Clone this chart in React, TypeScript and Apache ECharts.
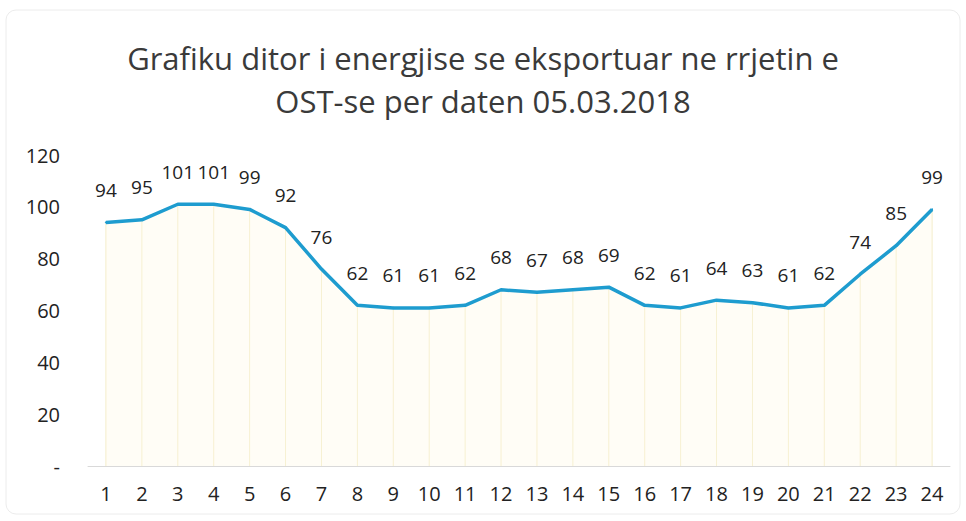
import React, { useEffect, useRef } from "react";
import * as echarts from "echarts";

const titleLines = ["Grafiku ditor i energjise se eksportuar ne rrjetin e", "OST-se per daten 05.03.2018"];
const hours = ["1","2","3","4","5","6","7","8","9","10","11","12","13","14","15","16","17","18","19","20","21","22","23","24"];
const values = [94,95,101,101,99,92,76,62,61,61,62,68,67,68,69,62,61,64,63,61,62,74,85,99];
const yTicks = [0, 20, 40, 60, 80, 100, 120];

export default function App() {
  const ref = useRef<HTMLDivElement>(null);
  useEffect(() => {
    if (!ref.current) return;
    const chart = echarts.init(ref.current, undefined, { renderer: "svg" });
    const font = "'Open Sans', Lato, sans-serif";
    chart.setOption({
      animation: false,
      backgroundColor: "#ffffff",
      title: {
        text: titleLines.join("\n"),
        left: "center",
        top: 31,
        textStyle: { fontFamily: font, fontSize: 31, fontWeight: "normal", color: "#3a3a3a", lineHeight: 43 },
      },
      graphic: [
        {
          type: "rect",
          shape: { x: 6, y: 10, width: 954, height: 504, r: 10 },
          style: { fill: "none", stroke: "#ececec", lineWidth: 1 },
          silent: true,
        },
      ],
      grid: { left: 88, right: 16, top: 155, bottom: 55 },
      xAxis: {
        type: "category",
        data: hours,
        boundaryGap: true,
        axisLine: { lineStyle: { color: "#d9d9d9" } },
        axisTick: { show: false },
        axisLabel: { fontFamily: font, fontSize: 20, color: "#222", margin: 17 },
      },
      yAxis: {
        type: "value",
        min: yTicks[0],
        max: yTicks[yTicks.length - 1],
        interval: 20,
        splitLine: { show: false },
        axisLine: { show: false },
        axisTick: { show: false },
        axisLabel: {
          fontFamily: font,
          fontSize: 20,
          color: "#222",
          margin: 28,
          formatter: (v: number) => (v === 0 ? "-" : String(v)),
        },
      },
      series: [
        {
          type: "bar",
          data: values,
          barWidth: 1,
          silent: true,
          itemStyle: { color: "#f3ebc4" },
          z: 1,
        },
        {
          type: "line",
          data: values,
          symbol: "circle",
          symbolSize: 2,
          showSymbol: true,
          itemStyle: { color: "#1e9ccf" },
          lineStyle: { color: "#1e9ccf", width: 3.5 },
          areaStyle: { color: "rgba(255, 251, 232, 0.55)" },
          label: {
            show: true,
            position: "top",
            distance: 22,
            fontFamily: font,
            fontSize: 19,
            color: "#222",
          },
          labelLayout: { hideOverlap: false },
          z: 3,
        },
      ],
    });
    return () => chart.dispose();
  }, []);
  return <div ref={ref} style={{ position: "fixed", left: 0, top: 0, width: 966, height: 521 }} />;
}
